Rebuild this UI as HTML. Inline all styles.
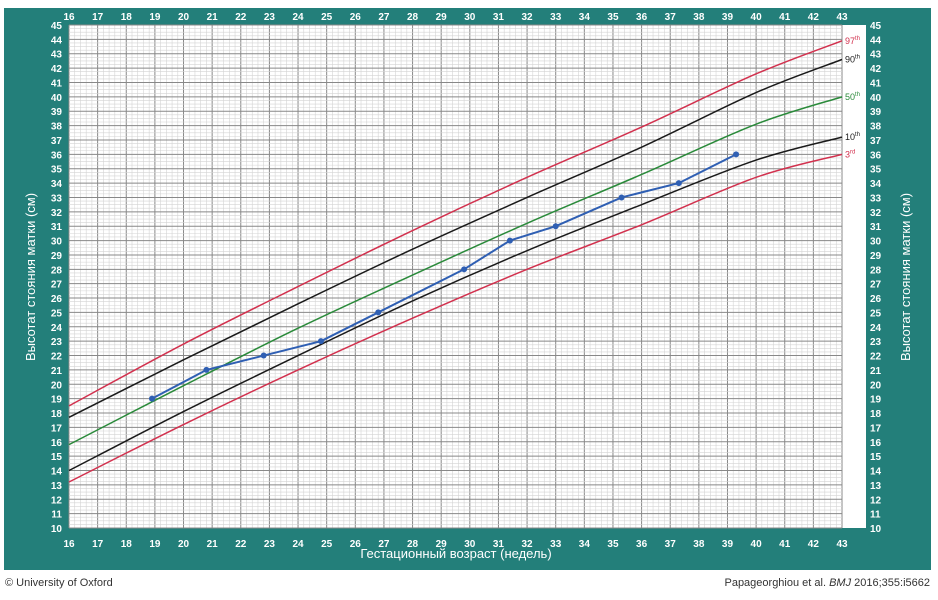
<!DOCTYPE html>
<html><head><meta charset="utf-8">
<style>
body{margin:0;width:938px;height:600px;background:#fff;overflow:hidden;font-family:"Liberation Sans",sans-serif}
#frame{position:absolute;left:4px;top:8px;width:927px;height:562px;background:#237f7a}
.foot{position:absolute;top:577px;font-size:11px;color:#333}
</style></head><body>
<div id="frame"></div>
<svg id="chart" width="938" height="600" style="position:absolute;left:0;top:0" font-family="Liberation Sans, sans-serif"></svg>
<div class="foot" style="left:5px">© University of Oxford</div>
<div class="foot" style="right:8px">Papageorghiou et al. <i>BMJ</i> 2016;355:i5662</div>
<script>
const weeks=[16,20,24,28,32,36,40,43];
const c97=[18.5,22.8,26.8,30.7,34.4,37.9,41.6,43.9];
const c90=[17.7,21.7,25.6,29.4,33.0,36.5,40.3,42.6];
const c50=[15.8,19.9,23.9,27.6,31.2,34.6,38.1,40.0];
const c10=[14.0,18.1,22.0,25.8,29.3,32.5,35.6,37.2];
const c3=[13.2,17.2,21.0,24.6,28.0,31.1,34.4,36.0];
const ptWeeks=[18.9,20.8,22.8,24.8,26.8,29.8,31.4,33.0,35.3,37.3,39.3];
const ptHeights=[19,21,22,23,25,28,30,31,33,34,36];
const xTicks=[16,17,18,19,20,21,22,23,24,25,26,27,28,29,30,31,32,33,34,35,36,37,38,39,40,41,42,43];
const yTicks=[10,11,12,13,14,15,16,17,18,19,20,21,22,23,24,25,26,27,28,29,30,31,32,33,34,35,36,37,38,39,40,41,42,43,44,45];
const centileLabels=["97th","90th","50th","10th","3rd"];

const NS="http://www.w3.org/2000/svg";
const svg=document.getElementById('chart');
const X0=69,X1=842,Y0=528,Y1=25;
const x=w=>X0+(w-16)*(X1-X0)/27;
const y=v=>Y0-(v-10)*(Y0-Y1)/35;
function mk(t,a,p){const e=document.createElementNS(NS,t);for(const k in a)e.setAttribute(k,a[k]);(p||svg).appendChild(e);return e;}
const bg=mk('rect',{x:X0,y:Y1,width:797,height:Y0-Y1,fill:'#fff'});


const grid=mk('g',{});


for(let i=0;i<=27*5;i++){const w=16+i/5;const maj=i%5==0;mk('line',{x1:x(w),x2:x(w),y1:Y1,y2:Y0,stroke:maj?'#888':'#d4d4d4','stroke-width':maj?1:0.6},grid);}
for(let i=0;i<=35*4;i++){const v=10+i/4;const maj=i%4==0;mk('line',{x1:X0,x2:X1,y1:y(v),y2:y(v),stroke:maj?'#888':'#d4d4d4','stroke-width':maj?1:0.6},grid);}
xTicks.forEach(t=>{
 [16,547].forEach((yy,j)=>{const e=mk('text',{x:x(t),y:yy+(j?0:4),'text-anchor':'middle','font-size':10,'font-weight':'bold',fill:'#fff'});e.textContent=t;
 
 });
});
yTicks.forEach(t=>{
 const a=mk('text',{x:62,y:y(t)+4,'text-anchor':'end','font-size':10,'font-weight':'bold',fill:'#fff'});a.textContent=t;
 
 
 const b=mk('text',{x:870,y:y(t)+4,'text-anchor':'start','font-size':10,'font-weight':'bold',fill:'#fff'});b.textContent=t;
 
 
});
function path(xs,ys){let d='';const P=xs.map((w,i)=>[x(w),y(ys[i])]);
 for(let i=0;i<P.length-1;i++){const p0=P[Math.max(0,i-1)],p1=P[i],p2=P[i+1],p3=P[Math.min(P.length-1,i+2)];
  if(!i)d+='M'+p1[0]+','+p1[1];
  d+=' C'+(p1[0]+(p2[0]-p0[0])/6)+','+(p1[1]+(p2[1]-p0[1])/6)+' '+(p2[0]-(p3[0]-p1[0])/6)+','+(p2[1]-(p3[1]-p1[1])/6)+' '+p2[0]+','+p2[1];}
 return d;}
const cents=[c97,c90,c50,c10,c3],cols=['#d2314e','#1a1a1a','#2a8a3a','#1a1a1a','#d2314e'];
cents.forEach((c,i)=>{
 const p=mk('path',{d:path(weeks,c),fill:'none',stroke:cols[i],'stroke-width':1.5});
 
 
 const t=mk('text',{x:x(43)+3,y:y(c[c.length-1])+3,'font-size':9,fill:cols[i]});
 t.textContent=centileLabels[i].replace(/(th|rd)$/,'');
 const s=mk('tspan',{'font-size':6,dy:-4},t);s.textContent=centileLabels[i].slice(-2);
 
 
});
const pl=mk('polyline',{points:ptWeeks.map((w,i)=>x(w)+','+y(ptHeights[i])).join(' '),fill:'none',stroke:'#2f5fb3','stroke-width':2});


ptWeeks.forEach((w,i)=>{const c=mk('circle',{cx:x(w),cy:y(ptHeights[i]),r:3,fill:'#2f5fb3'});
 
 });
const xt=mk('text',{x:456,y:558,'text-anchor':'middle','font-size':13,fill:'#fff'});xt.textContent='Гестационный возраст (недель)';


const yl=mk('text',{x:0,y:0,transform:'translate(35,277) rotate(-90)','text-anchor':'middle','font-size':13,fill:'#fff'});yl.textContent='Высотат стояния матки (см)';


const yr=mk('text',{x:0,y:0,transform:'translate(910,277) rotate(-90)','text-anchor':'middle','font-size':13,fill:'#fff'});yr.textContent='Высотат стояния матки (см)';


</script>
</body></html>
